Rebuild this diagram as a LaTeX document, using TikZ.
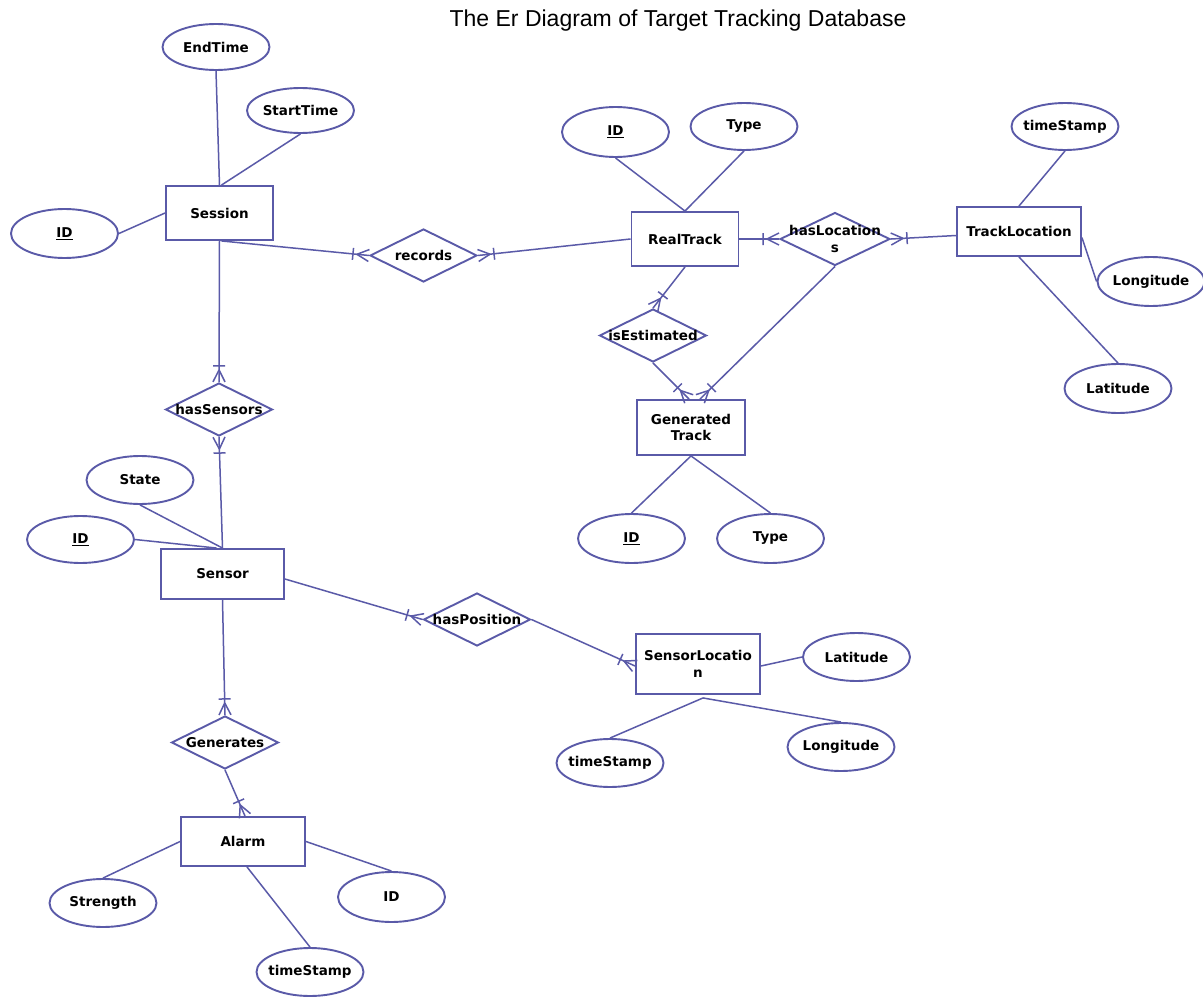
\documentclass[tikz,border=0pt]{standalone}
\usepackage{fontspec}
\newfontfamily\erfont{DejaVu Sans}
\newfontfamily\titlefont{Liberation Sans}
\usetikzlibrary{shapes.geometric,decorations.markings}
\definecolor{erline}{RGB}{90,90,168}
\tikzset{
  lbl/.style={font=\erfont\bfseries\fontsize{13.5}{16.5}\selectfont, align=center, text=black},
  ent/.style={lbl, draw=erline, line width=1.9pt, fill=white, rectangle, inner sep=0pt, minimum width=107pt, minimum height=54pt},
  attr/.style={draw=erline, line width=1.9pt, fill=white, ellipse, inner sep=0pt, minimum width=107pt, minimum height=48pt},
  rel/.style={draw=erline, line width=1.9pt, fill=white, diamond, inner sep=0pt, minimum width=107pt, minimum height=53pt},
  conn/.style={draw=erline, line width=1.5pt},
  cf/.style={postaction={decorate, decoration={markings, mark=at position 0.999 with {\draw[erline, line width=1.5pt] (-12pt,0pt) -- (0pt,6pt) (-12pt,0pt) -- (0pt,-6pt) (-16pt,-6pt) -- (-16pt,6pt);}}}}
}
\begin{document}
\begin{tikzpicture}[x=1pt, y=-1pt]
\useasboundingbox (0,0) rectangle (1203,998);
\fill[white] (0,0) rectangle (1203,998);
\node[font=\titlefont\fontsize{23}{26}\selectfont] (title) at (678,21) {The Er Diagram of Target Tracking Database};

% entities
\node[ent] (session) at (219.5,213) {Session};
\node[ent] (realtrack) at (685,239) {RealTrack};
\node[ent, minimum width=124pt, minimum height=49pt] (trackloc) at (1019,231.5) {TrackLocation};
\node[ent, minimum width=108pt, minimum height=55pt] (gentrack) at (691,427.5) {Generated\\Track};
\node[ent, minimum width=123pt, minimum height=50pt] (sensor) at (222.5,574) {Sensor};
\node[ent, minimum width=124pt, minimum height=60pt] (sensloc) at (698,664) {SensorLocatio\\n};
\node[ent, minimum width=124pt, minimum height=49pt] (alarm) at (243,841.5) {Alarm};

% relationships
\node[rel, label={[lbl]center:records}] (records) at (423.5,255.5) {};
\node[rel, minimum width=110pt] (hasloc) at (835,239) {};
\node[lbl] (haslocl) at (835,239) {hasLocation\\s};
\node[rel, label={[lbl]center:isEstimated}] (isest) at (653,335.5) {};
\node[rel, label={[lbl]center:hasSensors}] (hassensors) at (219,409.5) {};
\node[rel, label={[lbl]center:hasPosition}] (haspos) at (477,619.5) {};
\node[rel, label={[lbl]center:Generates}] (generates) at (225,742.5) {};

% attributes
\node[attr, minimum height=46pt, label={[lbl]center:EndTime}] (endtime) at (216,47) {};
\node[attr, minimum height=45pt, label={[lbl]center:StartTime}] (starttime) at (300.5,110.5) {};
\node[attr, minimum height=49pt, label={[lbl]center:\underline{ID}}] (sid) at (64.5,233.5) {};
\node[attr, minimum height=50pt, label={[lbl]center:\underline{ID}}] (rtid) at (615.5,132) {};
\node[attr, minimum height=47pt, label={[lbl]center:Type}] (rttype) at (744,126.5) {};
\node[attr, minimum height=47pt, label={[lbl]center:timeStamp}] (tlts) at (1065,126.5) {};
\node[attr, minimum height=49pt, label={[lbl]center:Longitude}] (tllong) at (1151,281.5) {};
\node[attr, minimum height=49pt, label={[lbl]center:Latitude}] (tllat) at (1118,388.5) {};
\node[attr, minimum height=49pt, label={[lbl]center:\underline{ID}}] (gtid) at (631.5,538.5) {};
\node[attr, minimum height=49pt, label={[lbl]center:Type}] (gttype) at (770.5,538.5) {};
\node[attr, label={[lbl]center:State}] (state) at (140,480) {};
\node[attr, minimum height=47pt, label={[lbl]center:\underline{ID}}] (sensid) at (80.5,539.5) {};
\node[attr, label={[lbl]center:Latitude}] (sllat) at (856.5,657) {};
\node[attr, label={[lbl]center:Longitude}] (sllong) at (841,747) {};
\node[attr, label={[lbl]center:timeStamp}] (slts) at (610,763) {};
\node[attr, label={[lbl]center:Strength}] (strength) at (103,903) {};
\node[attr, minimum height=50pt, label={[lbl]center:ID}] (aid) at (391.5,897) {};
\node[attr, label={[lbl]center:timeStamp}] (ats) at (310,972) {};

% attribute links
\draw[conn] (endtime.south) -- (session.north);
\draw[conn] (starttime.south) -- ([xshift=2pt]session.north);
\draw[conn] (sid.east) -- (session.west);
\draw[conn] (rtid.south) -- (realtrack.north);
\draw[conn] (rttype.south) -- (realtrack.north);
\draw[conn] (trackloc.north) -- (tlts.south);
\draw[conn] ([yshift=-6pt]trackloc.east) -- (tllong.west);
\draw[conn] (trackloc.south) -- (tllat.north);
\draw[conn] (gentrack.south) -- (gtid.north);
\draw[conn] (gentrack.south) -- (gttype.north);
\draw[conn] (state.south) -- (sensor.north);
\draw[conn] (sensid.east) -- ([xshift=-6pt]sensor.north);
\draw[conn] ([yshift=-2pt]sensloc.east) -- (sllat.west);
\draw[conn] ([xshift=5pt,yshift=-3pt]sensloc.south) -- (sllong.north);
\draw[conn] ([xshift=5pt,yshift=-3pt]sensloc.south) -- (slts.north);
\draw[conn] (alarm.west) -- (strength.north);
\draw[conn] (alarm.east) -- (aid.north);
\draw[conn] ([xshift=4pt]alarm.south) -- (ats.north);

% relationship links
\draw[conn, cf] ([xshift=2pt]session.south) -- (records.west);
\draw[conn, cf] (realtrack.west) -- (records.east);
\draw[conn, cf] (session.south) -- (hassensors.north);
\draw[conn, cf] (sensor.north) -- (hassensors.south);
\draw[conn, cf] ([yshift=-5pt]sensor.east) -- (haspos.west);
\draw[conn, cf] (haspos.east) -- ([yshift=-2pt]sensloc.west);
\draw[conn, cf] (sensor.south) -- (generates.north);
\draw[conn, cf] (generates.south) -- ([xshift=2pt]alarm.north);
\draw[conn, cf] (realtrack.east) -- (hasloc.west);
\draw[conn, cf] ([yshift=-4pt]trackloc.west) -- (hasloc.east);
\draw[conn, cf] (hasloc.south) -- ([xshift=9pt]gentrack.north);
\draw[conn, cf] (realtrack.south) -- (isest.north);
\draw[conn, cf] (isest.south) -- ([xshift=-2pt]gentrack.north);
\end{tikzpicture}
\end{document}
